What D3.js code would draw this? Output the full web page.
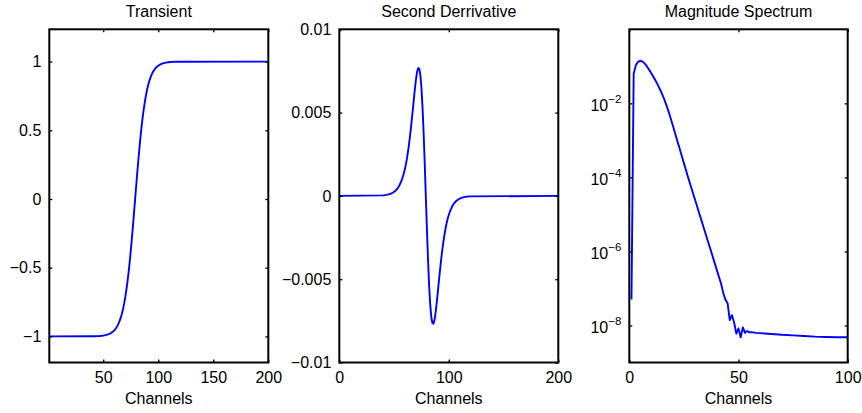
<!DOCTYPE html>
<html>
<head>
<meta charset="utf-8">
<script src="https://cdn.jsdelivr.net/npm/d3@7"></script>
<style>
  body { margin: 0; background: #fff; }
  text { font-family: "Liberation Sans", Arial, Helvetica, sans-serif; fill: #000; }
</style>
</head>
<body>
<svg id="chart" width="862" height="413"></svg>
<script>
// ---- Transient (step between -1 and +1) ----
const transientChannels = [1, 39, 41, 43, 45, 47, 49, 51, 53, 55, 57,
  59, 60, 61, 62, 63, 64, 65, 66, 67, 68, 69, 70, 71, 72, 73, 74, 75, 76, 77, 78, 79,
  80, 81, 82, 83, 84, 85, 86, 87, 88, 89, 90, 91, 92, 93, 94, 95, 96, 97, 98, 99,
  101, 103, 105, 107, 109, 111, 113, 115, 117, 119, 200];
const transientValues = [-1, -0.9993, -0.9990, -0.9985, -0.9978, -0.9967, -0.9951, -0.9926, -0.9890, -0.9837, -0.9757,
  -0.9640, -0.9562, -0.9468, -0.9354, -0.9217, -0.9052, -0.8854, -0.8617, -0.8337, -0.8005, -0.7616, -0.7163, -0.6640,
  -0.6044, -0.5370, -0.4621, -0.3799, -0.2913, -0.1974, -0.0997, 0,
  0.0997, 0.1974, 0.2913, 0.3799, 0.4621, 0.5370, 0.6044, 0.6640, 0.7163, 0.7616, 0.8005, 0.8337, 0.8617, 0.8854,
  0.9052, 0.9217, 0.9354, 0.9468, 0.9562, 0.9640,
  0.9757, 0.9837, 0.9890, 0.9926, 0.9951, 0.9967, 0.9978, 0.9985, 0.9990, 0.9993, 1];

// ---- Second derivative of the transient ----
const derivChannels = [0, 39, 41, 43, 45, 47, 49, 51, 53, 55, 57,
  59, 60, 61, 62, 63, 64, 65, 66, 67, 68, 69, 70, 71, 72, 73, 74, 75, 76, 77, 78, 79,
  80, 81, 82, 83, 84, 85, 86, 87, 88, 89, 90, 91, 92, 93, 94, 95, 96, 97, 98, 99,
  101, 103, 105, 107, 109, 111, 113, 115, 117, 119, 200];
const derivValues = [0, 0.00003, 0.00004, 0.00006, 0.00009, 0.00013, 0.00020, 0.00029, 0.00043, 0.00064, 0.00094,
  0.00136, 0.00164, 0.00196, 0.00234, 0.00278, 0.00327, 0.00383, 0.00444, 0.00509, 0.00575, 0.00640, 0.00698, 0.00743,
  0.00767, 0.00764, 0.00727, 0.00650, 0.00533, 0.00379, 0.00197, 0,
  -0.00197, -0.00379, -0.00533, -0.00650, -0.00727, -0.00764, -0.00767, -0.00743, -0.00698, -0.00640, -0.00575,
  -0.00509, -0.00444, -0.00383, -0.00327, -0.00278, -0.00234, -0.00196, -0.00164, -0.00136,
  -0.00094, -0.00064, -0.00043, -0.00029, -0.00020, -0.00013, -0.00009, -0.00006, -0.00004, -0.00003, 0];

// ---- Magnitude spectrum of the second derivative ----
const spectrumChannels = [1, 2, 3, 4, 5, 6, 7, 8, 9, 10, 11, 12, 13, 14, 15, 16, 17, 18, 19, 20,
  21, 22, 23, 24, 25, 26, 27, 28, 29, 30, 31, 32, 33, 34, 35, 36, 37, 38, 39, 40,
  41, 42, 43, 44, 45, 46, 47, 48, 49, 50, 51, 52, 53, 54, 55, 56, 58, 60, 65, 70, 75, 80, 85, 90, 95, 100];
const spectrumValues = [5.0e-8, 6.3e-2, 0.107, 0.132, 0.141, 0.135, 0.120, 0.101, 0.0822, 0.0661,
  0.0525, 0.0412, 0.0320, 0.0243, 0.0180, 0.0129, 8.91e-3, 5.96e-3, 3.85e-3, 2.43e-3,
  1.53e-3, 9.66e-4, 6.10e-4, 3.85e-4, 2.43e-4, 1.53e-4, 9.66e-5, 6.24e-5, 4.03e-5, 2.60e-5,
  1.68e-5, 1.08e-5, 7.0e-6, 4.52e-6, 2.92e-6, 1.88e-6, 1.22e-6, 7.85e-7, 5.07e-7, 3.27e-7,
  2.11e-7, 1.36e-7, 7.6e-8, 5.0e-8, 4.0e-8, 1.4e-8, 1.9e-8, 1.2e-8, 6.0e-9, 8.3e-9,
  4.8e-9, 8.9e-9, 6.3e-9, 7.1e-9, 6.5e-9, 6.6e-9, 6.3e-9, 6.2e-9, 5.9e-9, 5.6e-9,
  5.4e-9, 5.2e-9, 5.0e-9, 4.9e-9, 4.8e-9, 4.8e-9];

// ---- Tick values ----
const transientXTicks = [50, 100, 150, 200];
const transientYTicks = [-1, -0.5, 0, 0.5, 1];
const derivXTicks = [0, 100, 200];
const derivYTicks = [-0.01, -0.005, 0, 0.005, 0.01];
const spectrumXTicks = [0, 50, 100];
const spectrumYTicks = [1e-8, 1e-6, 1e-4, 1e-2];

const titles = ["Transient", "Second Derrivative", "Magnitude Spectrum"];
const xLabel = "Channels";

const svg = d3.select("#chart");
const plotTop = 29.3, plotBottom = 362.5;
const fontSize = 16;
const minus = s => s.replace(/-/g, "\u2212");

function panel(cfg, idx) {
  const x = d3.scaleLinear().domain(cfg.xDomain).range([cfg.left, cfg.right]);
  const y = (cfg.log ? d3.scaleLog() : d3.scaleLinear()).domain(cfg.yDomain).range([plotBottom, plotTop]);
  const g = svg.append("g");

  const clipId = "clip" + idx;
  svg.append("clipPath").attr("id", clipId).append("rect")
    .attr("x", cfg.left).attr("y", plotTop)
    .attr("width", cfg.right - cfg.left).attr("height", plotBottom - plotTop);

  // data line
  const pts = cfg.xs.map((v, i) => [v, cfg.ys[i]]);
  g.append("path")
    .attr("clip-path", `url(#${clipId})`)
    .attr("d", d3.line().x(d => x(d[0])).y(d => y(d[1]))(pts))
    .attr("fill", "none").attr("stroke", "#0000ff").attr("stroke-width", 1.9)
    .attr("stroke-linejoin", "round");

  const style = sel => {
    sel.attr("font-family", null);
    sel.select(".domain").remove();
    sel.selectAll(".tick line").attr("stroke", "#000").attr("stroke-width", 1.3);
    sel.selectAll(".tick text").attr("font-size", fontSize).attr("fill", "#000");
  };

  // bottom axis with labels
  g.append("g").attr("transform", `translate(0,${plotBottom})`)
    .call(d3.axisBottom(x).tickValues(cfg.xTicks).tickSize(-3).tickPadding(9.5)
      .tickFormat(d => minus(String(d))))
    .call(style);
  // top axis, ticks only
  g.append("g").attr("transform", `translate(0,${plotTop})`)
    .call(d3.axisTop(x).tickValues(cfg.xTicks).tickSize(-3).tickFormat(""))
    .call(style);

  // left axis
  const leftAxis = g.append("g").attr("transform", `translate(${cfg.left},0)`)
    .call(d3.axisLeft(y).tickValues(cfg.yTicks).tickSize(-3).tickPadding(8)
      .tickFormat(cfg.log ? () => "" : d => minus(String(d))))
    .call(style);
  if (cfg.log) {
    leftAxis.selectAll(".tick").each(function(d) {
      const t = d3.select(this).append("text")
        .attr("x", -8).attr("y", 7.3).attr("text-anchor", "end")
        .attr("font-size", fontSize);
      t.append("tspan").text("10");
      t.append("tspan").attr("dy", -8.3).attr("font-size", 11.5)
        .text("\u2212" + Math.round(-Math.log10(d)));
    });
  }
  // right axis, ticks only
  g.append("g").attr("transform", `translate(${cfg.right},0)`)
    .call(d3.axisRight(y).tickValues(cfg.yTicks).tickSize(-3).tickFormat(""))
    .call(style);

  // box
  g.append("rect")
    .attr("x", cfg.left).attr("y", plotTop)
    .attr("width", cfg.right - cfg.left).attr("height", plotBottom - plotTop)
    .attr("fill", "none").attr("stroke", "#000").attr("stroke-width", 2);

  const cx = (cfg.left + cfg.right) / 2;
  g.append("text").attr("x", cx).attr("y", 16.7).attr("text-anchor", "middle")
    .attr("font-size", fontSize).text(titles[idx]);
  g.append("text").attr("x", cx).attr("y", 404).attr("text-anchor", "middle")
    .attr("font-size", fontSize).text(xLabel);
}

panel({ left: 49.3, right: 268.3, xDomain: [1, 200], yDomain: [-1.19, 1.235],
  xs: transientChannels, ys: transientValues, xTicks: transientXTicks, yTicks: transientYTicks }, 0);
panel({ left: 339.3, right: 558.3, xDomain: [0, 200], yDomain: [-0.01, 0.01],
  xs: derivChannels, ys: derivValues, xTicks: derivXTicks, yTicks: derivYTicks }, 1);
panel({ left: 629.3, right: 847.7, xDomain: [0, 100], yDomain: [1e-9, 1], log: true,
  xs: spectrumChannels, ys: spectrumValues, xTicks: spectrumXTicks, yTicks: spectrumYTicks }, 2);
</script>
</body>
</html>
